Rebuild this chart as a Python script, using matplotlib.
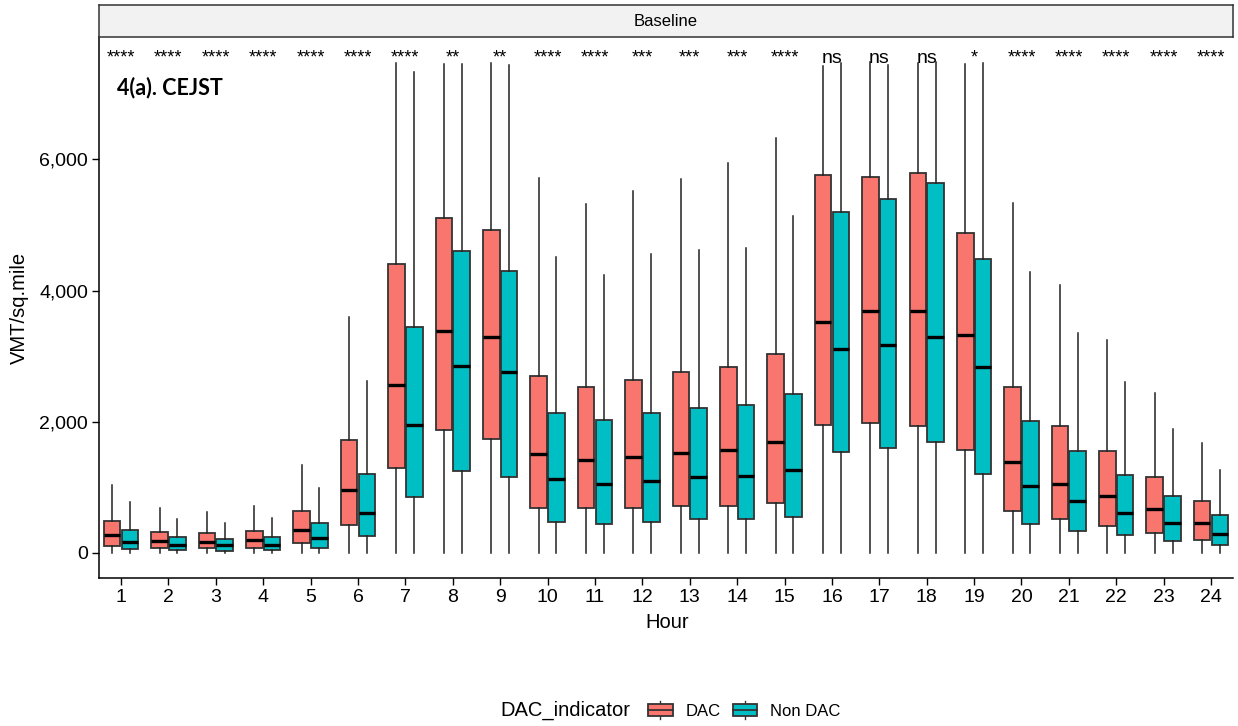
import matplotlib
matplotlib.use("Agg")
import matplotlib.pyplot as plt
from matplotlib.patches import Rectangle, Patch
from matplotlib.lines import Line2D
from matplotlib.legend_handler import HandlerBase
from matplotlib.ticker import FuncFormatter

plt.rcParams['font.family'] = ['Liberation Sans', 'DejaVu Sans']

# data (VMT per sq. mile, by hour)
hours = list(range(1, 25))
sig_labels = ['****'] * 7 + ['**', '**'] + ['****', '****', '***', '***', '***', '****',
                                            'ns', 'ns', 'ns', '*'] + ['****'] * 5

# DAC: lower whisker, q1, median, q3, upper whisker
dac_lo = [0] * 24
dac_q1 = [111, 81, 72, 81, 157, 432, 1300, 1880, 1743, 691, 681, 681,
          716, 716, 767, 1951, 1982, 1941, 1570, 640, 513, 417, 305, 203]
dac_med = [270, 183, 172, 193, 350, 955, 2561, 3384, 3293, 1504, 1418, 1458,
           1530, 1570, 1692, 3521, 3694, 3694, 3318, 1382, 1057, 864, 671, 452]
dac_q3 = [492, 325, 305, 340, 640, 1722, 4401, 5111, 4924, 2703, 2535, 2637,
          2754, 2830, 3038, 5767, 5727, 5788, 4883, 2535, 1941, 1555, 1164, 788]
dac_hi = [1037, 681, 625, 716, 1341, 3593, 7465, 7454, 7465, 5711, 5320, 5518,
          5706, 5945, 6331, 7424, 7485, 7465, 7454, 5340, 4081, 3247, 2444, 1672]

# Non DAC
non_lo = [0] * 24
non_q1 = [61, 41, 30, 41, 81, 254, 849, 1250, 1164, 478, 447, 478,
          513, 523, 544, 1540, 1601, 1692, 1204, 442, 330, 269, 183, 117]
non_med = [172, 122, 122, 122, 224, 615, 1946, 2851, 2754, 1123, 1057, 1093,
           1154, 1174, 1265, 3105, 3166, 3298, 2830, 1021, 798, 605, 452, 290]
non_q3 = [355, 239, 209, 249, 452, 1199, 3450, 4599, 4303, 2139, 2027, 2130,
          2215, 2251, 2424, 5193, 5402, 5640, 4487, 2017, 1555, 1194, 869, 579]
non_hi = [773, 518, 457, 528, 986, 2627, 7327, 7454, 7434, 4517, 4238, 4558,
          4624, 4655, 5142, 7465, 7434, 7485, 7465, 4278, 3349, 2607, 1896, 1265]

dac_color = '#F8766D'
non_color = '#00BFC4'
edge = '#333333'


def make_stats(lo, q1, med, q3, hi):
    return [dict(whislo=a, q1=b, med=c, q3=d, whishi=e)
            for a, b, c, d, e in zip(lo, q1, med, q3, hi)]


class HandlerBox(HandlerBase):
    def create_artists(self, legend, orig_handle, xdescent, ydescent,
                       width, height, fontsize, trans):
        x0, y0 = -xdescent, -ydescent
        fc = orig_handle.get_facecolor()
        xm = x0 + width / 2
        rect = Rectangle((x0, y0 + 0.17 * height), width, 0.66 * height,
                         facecolor=fc, edgecolor=edge, lw=1.3, transform=trans)
        med = Line2D([x0, x0 + width], [y0 + height / 2] * 2, color=edge, lw=1.3, transform=trans)
        w1 = Line2D([xm, xm], [y0 + 0.83 * height, y0 + height], color=edge, lw=1, transform=trans)
        w2 = Line2D([xm, xm], [y0, y0 + 0.17 * height], color=edge, lw=1, transform=trans)
        return [w1, w2, rect, med]


fig = plt.figure(figsize=(12.38, 7.26), dpi=100)
ax = fig.add_axes([0.080, 0.2039, 0.916, 0.7452])

off = 0.1875
bw = 0.35
for stats, shift, color in [(make_stats(dac_lo, dac_q1, dac_med, dac_q3, dac_hi), -off, dac_color),
                            (make_stats(non_lo, non_q1, non_med, non_q3, non_hi), off, non_color)]:
    ax.bxp(stats, positions=[h + shift for h in hours], widths=bw,
           showfliers=False, showcaps=False, patch_artist=True,
           boxprops=dict(facecolor=color, edgecolor=edge, linewidth=1.3),
           whiskerprops=dict(color='#222222', linewidth=1.1),
           medianprops=dict(color='black', linewidth=2.4))

# significance labels
for h, s in zip(hours, sig_labels):
    ax.text(h, 7470, s, ha='center', va='baseline',
            fontsize=14 if s == 'ns' else 13)

ax.text(0.016, 0.906, '4(a). CEJST', transform=ax.transAxes, ha='left', va='center',
        fontsize=15.5, fontweight='bold', family=['Lato', 'DejaVu Sans'])

ax.set_xlim(0.536, 24.464)
ax.set_ylim(-381, 7866)
ax.set_xticks(hours)
ax.set_xticklabels([str(h) for h in hours])
ax.set_yticks([0, 2000, 4000, 6000])
ax.yaxis.set_major_formatter(FuncFormatter(lambda v, p: f'{int(v):,}'))
ax.tick_params(axis='both', labelsize=14, length=5, width=1, color='black', pad=3)
for side in ['top', 'right']:
    ax.spines[side].set_visible(False)
for side in ['left', 'bottom']:
    ax.spines[side].set_linewidth(1.1)

ax.set_xlabel('Hour', fontsize=14.5)
ax.set_ylabel('VMT/sq.mile', fontsize=14.5)
ax.xaxis.set_label_coords(0.501, -0.064)
ax.yaxis.set_label_coords(-0.062, 0.5)

# facet strip
strip = fig.add_axes([0.080, 0.949, 0.916, 0.044])
strip.set_xticks([])
strip.set_yticks([])
strip.set_facecolor('#F2F2F2')
for sp in strip.spines.values():
    sp.set_linewidth(1.1)
    sp.set_color('#333333')
strip.text(0.5, 0.5, 'Baseline', ha='center', va='center', fontsize=12, transform=strip.transAxes)

# legend
fig.text(630 / 1238, 1 - 710 / 726, 'DAC_indicator', ha='right', va='center', fontsize=14.5)
handles = [Patch(facecolor=dac_color), Patch(facecolor=non_color)]
fig.legend(handles, ['DAC', 'Non DAC'], loc='center left',
           bbox_to_anchor=(640 / 1238, 1 - 710 / 726), ncol=2, frameon=False,
           fontsize=12, handler_map={Patch: HandlerBox()}, handlelength=1.45,
           handleheight=1.35, handletextpad=0.8, columnspacing=0.7, borderpad=0)

fig.savefig('out.png', dpi=100)
